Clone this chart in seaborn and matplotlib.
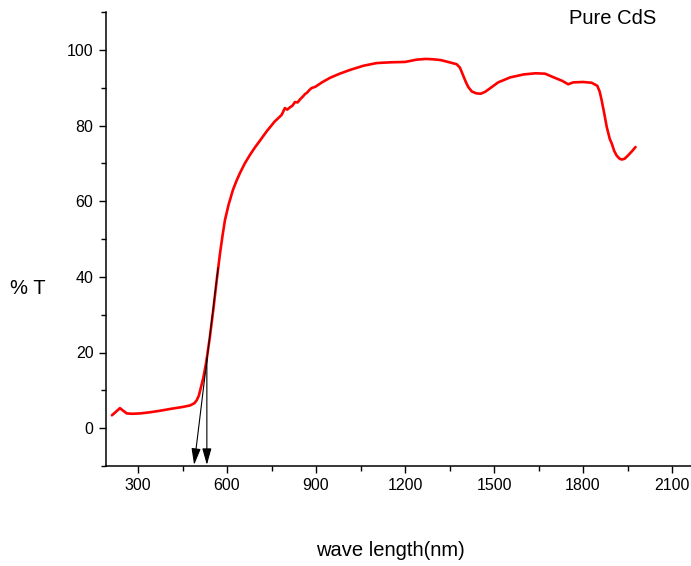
import matplotlib
matplotlib.use("Agg")
import matplotlib.pyplot as plt
from matplotlib.ticker import MultipleLocator, FixedLocator
import seaborn as sns
import pandas as pd

# Transmittance spectrum of the pure CdS film
wavelength = [
    212, 225, 239, 250, 262, 280, 307, 340, 374, 410, 450, 475, 490, 498, 505,
    512, 520, 530, 542, 554, 565, 576, 585, 593, 605, 620, 632, 644, 660, 677,
    694, 711, 734, 760, 784, 795, 803, 812, 820, 829, 838, 846, 855, 863, 870,
    878, 885, 897, 920, 947, 980, 1015, 1060, 1104, 1150, 1200, 1239, 1270,
    1295, 1320, 1340, 1374, 1385, 1395, 1405, 1413, 1425, 1440, 1455, 1470,
    1486, 1514, 1554, 1600, 1640, 1672, 1705, 1730, 1750, 1767, 1800, 1829,
    1848, 1856, 1863, 1872, 1880, 1890, 1897, 1905, 1913, 1922, 1930, 1940,
    1952, 1965, 1977,
]
transmittance = [
    3.4, 4.3, 5.3, 4.6, 3.9, 3.8, 3.9, 4.2, 4.6, 5.1, 5.6, 6.0, 6.6, 7.4, 8.6,
    10.8, 13.3, 17.5, 24.0, 31.5, 39.0, 46.0, 51.0, 55.0, 59.0, 63.0, 65.4,
    67.5, 70.0, 72.2, 74.2, 76.0, 78.5, 81.0, 82.8, 84.6, 84.2, 84.8, 85.2,
    86.2, 86.1, 86.9, 87.6, 88.3, 88.7, 89.4, 89.9, 90.2, 91.4, 92.6, 93.7,
    94.7, 95.8, 96.5, 96.7, 96.8, 97.4, 97.6, 97.5, 97.3, 96.9, 96.2, 95.3,
    93.4, 91.5, 90.2, 89.0, 88.5, 88.4, 88.9, 89.8, 91.4, 92.7, 93.5, 93.8,
    93.7, 92.6, 91.8, 90.9, 91.4, 91.5, 91.3, 90.5, 89.0, 86.6, 83.0, 79.6,
    76.5, 75.2, 73.3, 72.1, 71.3, 71.0, 71.2, 72.1, 73.2, 74.3,
]

# Band-edge construction: tangent extrapolation and the vertical marker
tangent_start = (570, 42.4)
tangent_end = (489, -9.7)
edge_start = (532, 18.4)
edge_end = (532, -9.7)

x_ticks = [300, 600, 900, 1200, 1500, 1800, 2100]
y_ticks = [0, 20, 40, 60, 80, 100]

sns.set_style("ticks")
plt.rcParams["font.family"] = ["Liberation Sans", "DejaVu Sans"]
plt.rcParams["text.color"] = "black"
plt.rcParams["xtick.color"] = "black"
plt.rcParams["ytick.color"] = "black"
plt.rcParams["xtick.labelcolor"] = "black"
plt.rcParams["ytick.labelcolor"] = "black"

fig = plt.figure(figsize=(6.91, 5.66), dpi=100)
ax = fig.add_axes([106 / 691, 100 / 566, 585 / 691, 454 / 566])

df = pd.DataFrame({"wavelength": wavelength, "T": transmittance})
sns.lineplot(data=df, x="wavelength", y="T", ax=ax, color="#ff0000",
             linewidth=1.9, estimator=None, sort=False)

arrow_style = dict(arrowstyle="-|>,head_length=1.0,head_width=0.28",
                   color="black", lw=0.8, shrinkA=0, shrinkB=0,
                   mutation_scale=10)
ax.annotate("", xy=tangent_end, xytext=tangent_start,
            arrowprops=arrow_style, annotation_clip=False)
ax.annotate("", xy=edge_end, xytext=edge_start,
            arrowprops=arrow_style, annotation_clip=False)

ax.set_xlim(192, 2164)
ax.set_ylim(-10, 110)
ax.xaxis.set_major_locator(FixedLocator(x_ticks))
ax.xaxis.set_minor_locator(MultipleLocator(150))
ax.yaxis.set_major_locator(FixedLocator(y_ticks))
ax.yaxis.set_minor_locator(MultipleLocator(10))
ax.tick_params(axis="both", which="major", direction="out", length=5,
               width=1.0, labelsize=11.5, color="black", labelcolor="black",
               pad=4)
ax.tick_params(axis="both", which="minor", direction="out", length=3.5,
               width=1.0, color="black")

for side in ("top", "right"):
    ax.spines[side].set_visible(False)
for side in ("left", "bottom"):
    ax.spines[side].set_linewidth(1.1)
    ax.spines[side].set_color("black")

ax.set_xlabel("")
ax.set_ylabel("")
fig.text(390 / 691, 1 - 551 / 566, "wave length(nm)", ha="center",
         va="center", fontsize=14.5, color="black")
fig.text(10 / 691, 1 - 289 / 566, "% T", ha="left", va="center",
         fontsize=14.5, color="black")
fig.text(613 / 691, 1 - 19 / 566, "Pure CdS", ha="center", va="center",
         fontsize=14.5, color="black")

fig.savefig("out.png", dpi=100, facecolor="white")
